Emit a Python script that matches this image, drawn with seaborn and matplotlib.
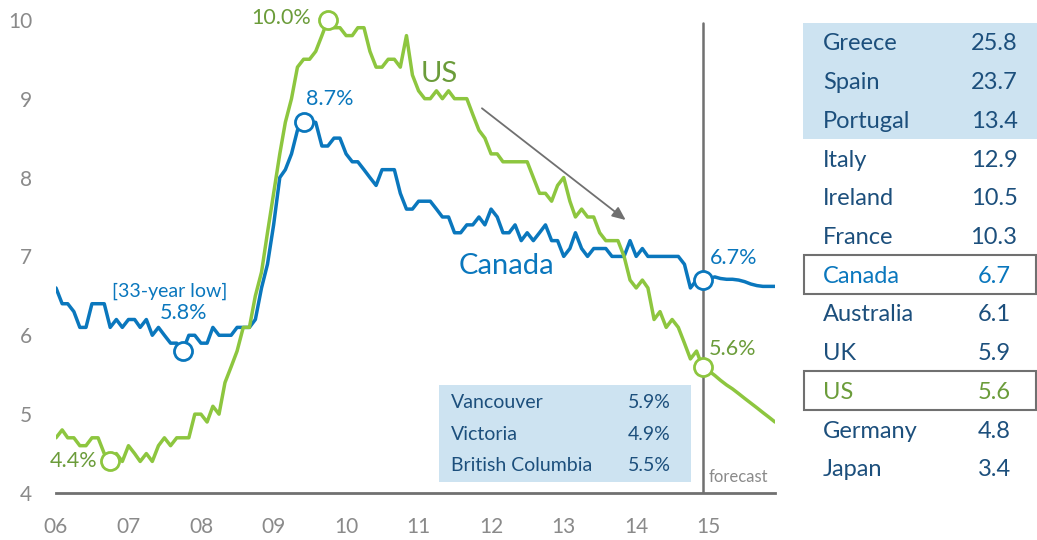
import numpy as np
import pandas as pd
import matplotlib
matplotlib.use("Agg")
import matplotlib.pyplot as plt
from matplotlib.patches import Rectangle
import seaborn as sns

# monthly unemployment rate (%), Jan 2006 - Dec 2014, then forecast for 2015
canada_actual = [
    6.6, 6.4, 6.4, 6.3, 6.1, 6.1, 6.4, 6.4, 6.4, 6.1, 6.2, 6.1,
    6.2, 6.2, 6.1, 6.2, 6.0, 6.1, 6.0, 5.9, 5.9, 5.8, 6.0, 6.0,
    5.9, 5.9, 6.1, 6.0, 6.0, 6.0, 6.1, 6.1, 6.1, 6.2, 6.6, 6.9,
    7.4, 8.0, 8.1, 8.3, 8.6, 8.7, 8.7, 8.7, 8.4, 8.4, 8.5, 8.5,
    8.3, 8.2, 8.2, 8.1, 8.0, 7.9, 8.1, 8.1, 8.1, 7.8, 7.6, 7.6,
    7.7, 7.7, 7.7, 7.6, 7.5, 7.5, 7.3, 7.3, 7.4, 7.4, 7.5, 7.4,
    7.6, 7.5, 7.3, 7.3, 7.4, 7.2, 7.3, 7.2, 7.3, 7.4, 7.2, 7.2,
    7.0, 7.1, 7.3, 7.1, 7.0, 7.1, 7.1, 7.1, 7.0, 7.0, 7.0, 7.2,
    7.0, 7.1, 7.0, 7.0, 7.0, 7.0, 7.0, 7.0, 6.9, 6.6, 6.7, 6.7,
]
canada_forecast = [6.72, 6.74, 6.72, 6.71, 6.71, 6.70, 6.68, 6.65, 6.63, 6.62, 6.62, 6.62]

us_actual = [
    4.7, 4.8, 4.7, 4.7, 4.6, 4.6, 4.7, 4.7, 4.5, 4.4, 4.5, 4.4,
    4.6, 4.5, 4.4, 4.5, 4.4, 4.6, 4.7, 4.6, 4.7, 4.7, 4.7, 5.0,
    5.0, 4.9, 5.1, 5.0, 5.4, 5.6, 5.8, 6.1, 6.1, 6.5, 6.8, 7.3,
    7.8, 8.3, 8.7, 9.0, 9.4, 9.5, 9.5, 9.6, 9.8, 10.0, 9.9, 9.9,
    9.8, 9.8, 9.9, 9.9, 9.6, 9.4, 9.4, 9.5, 9.5, 9.4, 9.8, 9.3,
    9.1, 9.0, 9.0, 9.1, 9.0, 9.1, 9.0, 9.0, 9.0, 8.8, 8.6, 8.5,
    8.3, 8.3, 8.2, 8.2, 8.2, 8.2, 8.2, 8.0, 7.8, 7.8, 7.7, 7.9,
    8.0, 7.7, 7.5, 7.6, 7.5, 7.5, 7.3, 7.2, 7.2, 7.2, 7.0, 6.7,
    6.6, 6.7, 6.6, 6.2, 6.3, 6.1, 6.2, 6.1, 5.9, 5.7, 5.8, 5.6,
]
us_forecast = [5.55, 5.49, 5.43, 5.37, 5.32, 5.26, 5.20, 5.14, 5.08, 5.02, 4.96, 4.90]

year_labels = ["06", "07", "08", "09", "10", "11", "12", "13", "14", "15"]
forecast_start = "2014-12-01"

# highlighted points: (series, month, label)
highlights = [
    ("US", "2009-10-01", "10.0%"),
    ("US", "2006-10-01", "4.4%"),
    ("Canada", "2009-06-01", "8.7%"),
    ("Canada", "2007-10-01", "5.8%"),
    ("Canada", "2014-12-01", "6.7%"),
    ("US", "2014-12-01", "5.6%"),
]

# comparison table
table_countries = ["Greece", "Spain", "Portugal", "Italy", "Ireland", "France",
                   "Canada", "Australia", "UK", "US", "Germany", "Japan"]
table_values = ["25.8", "23.7", "13.4", "12.9", "10.5", "10.3",
                "6.7", "6.1", "5.9", "5.6", "4.8", "3.4"]

bc_names = ["Vancouver", "Victoria", "British Columbia"]
bc_values = ["5.9%", "4.9%", "5.5%"]

BLUE = "#0a77bd"
GREEN = "#8dc63f"
GREEN_TXT = "#6b9c3a"
NAVY = "#1c4f7c"
LIGHT = "#cde3f1"
GRAY = "#707070"
TICK_GRAY = "#8a8a8a"

dates = pd.date_range("2006-01-01", periods=120, freq="MS")
df = pd.DataFrame({
    "date": np.concatenate([dates, dates]),
    "rate": canada_actual + canada_forecast + us_actual + us_forecast,
    "country": ["Canada"] * 120 + ["US"] * 120,
})

sns.set_style("white")
plt.rcParams["font.family"] = ["Lato", "DejaVu Sans"]

W, H = 1037, 540
fig = plt.figure(figsize=(W / 100, H / 100), dpi=100)
ax = fig.add_axes([56 / W, 47 / H, 719 / W, 485 / H])

sns.lineplot(data=df, x="date", y="rate", hue="country",
             palette={"Canada": BLUE, "US": GREEN}, linewidth=2.5,
             legend=False, ax=ax, zorder=3)

ax.set_xlim(dates[0], dates[-1])
ax.set_ylim(4, 10.15)
ax.set_xlabel("")
ax.set_ylabel("")
ax.set_yticks(range(4, 11))
ax.set_yticklabels([str(v) for v in range(4, 11)])
ax.set_xticks(pd.date_range("2006-01-01", "2015-01-01", freq="YS"))
ax.set_xticklabels(year_labels)
for s in ["top", "right", "left"]:
    ax.spines[s].set_visible(False)
ax.spines["bottom"].set_color(GRAY)
ax.spines["bottom"].set_linewidth(2)
ax.tick_params(axis="y", length=0, pad=17, labelsize=15, labelcolor=TICK_GRAY)
ax.tick_params(axis="x", length=5, width=1.5, color=GRAY, pad=12,
               labelsize=15, labelcolor=TICK_GRAY)

# forecast divider
fdate = pd.Timestamp(forecast_start)
ax.plot([fdate, fdate], [4, 9.96], color=GRAY, lw=1.8, zorder=2)
ax.annotate("forecast", (fdate, 4), xytext=(6, 8), textcoords="offset pixels",
            ha="left", va="bottom", fontsize=12, color=TICK_GRAY)

# highlighted points
series = {"Canada": pd.Series(canada_actual + canada_forecast, index=dates),
          "US": pd.Series(us_actual + us_forecast, index=dates)}
offsets = {"10.0%": (-17, 2, "right"), "4.4%": (-13, 0, "right"),
           "8.7%": (2, 23, "left"), "5.8%": (1, 38, "center"),
           "6.7%": (7, 22, "left"), "5.6%": (6, 18, "left")}
for name, d, label in highlights:
    d = pd.Timestamp(d)
    v = series[name][d]
    col = BLUE if name == "Canada" else GREEN
    tcol = BLUE if name == "Canada" else GREEN_TXT
    ax.plot([d], [v], marker="o", ms=13, mfc="white", mec=col, mew=2,
            zorder=5, clip_on=False)
    dx, dy, ha = offsets[label]
    ax.annotate(label, (d, v), xytext=(dx, dy), textcoords="offset pixels",
                ha=ha, va="center", fontsize=15.5, color=tcol)
ax.annotate("[33-year low]", (pd.Timestamp("2007-10-01"), series["Canada"]["2007-10-01"]),
            xytext=(-13, 60), textcoords="offset pixels", ha="center",
            va="center", fontsize=14, color=BLUE)

# series labels
ax.text(pd.Timestamp("2011-04-15"), 9.31, "US", fontsize=21, color=GREEN_TXT,
        ha="center", va="center")
ax.text(pd.Timestamp("2012-03-20"), 6.88, "Canada", fontsize=21, color=BLUE,
        ha="center", va="center")

# trend arrow
ax.annotate("", xy=(pd.Timestamp("2013-11-20"), 7.44),
            xytext=(pd.Timestamp("2011-11-05"), 8.90),
            arrowprops=dict(arrowstyle="-|>,head_length=0.8,head_width=0.35",
                            color=GRAY, lw=1.3))

# BC inset
ax.add_patch(Rectangle((0.533, 0.0227), 0.350, 0.2, transform=ax.transAxes,
                       facecolor=LIGHT, edgecolor="none", zorder=1))
for i, (n, v) in enumerate(zip(bc_names, bc_values)):
    yy = 0.186 - i * 0.065
    ax.text(0.549, yy, n, transform=ax.transAxes, fontsize=14, color=NAVY,
            va="center", ha="left", zorder=4)
    ax.text(0.855, yy, v, transform=ax.transAxes, fontsize=14, color=NAVY,
            va="center", ha="right", zorder=4)

# comparison table on the right
row0, step, half = 42, 38.7, 19.35
fig.add_artist(Rectangle((803 / W, 1 - (row0 + 2 * step + half) / H),
                         (W - 803) / W, (2 * step + 2 * half) / H,
                         transform=fig.transFigure, facecolor=LIGHT,
                         edgecolor="none", zorder=0))
for i, (c, v) in enumerate(zip(table_countries, table_values)):
    cy = row0 + i * step
    col = NAVY
    if c == "Canada":
        col = BLUE
    elif c == "US":
        col = GREEN_TXT
    if c in ("Canada", "US"):
        fig.add_artist(Rectangle((803.5 / W, 1 - (cy + half) / H),
                                 (1035.8 - 803.5) / W, 2 * half / H,
                                 transform=fig.transFigure, facecolor="none",
                                 edgecolor=GRAY, lw=1.5))
    fig.text(823 / W, 1 - (cy + 8.5) / H, c, fontsize=17, color=col,
             ha="left", va="baseline")
    fig.text(994 / W, 1 - (cy + 8.5) / H, v, fontsize=17, color=col,
             ha="center", va="baseline")

fig.savefig("out.png", dpi=100)
